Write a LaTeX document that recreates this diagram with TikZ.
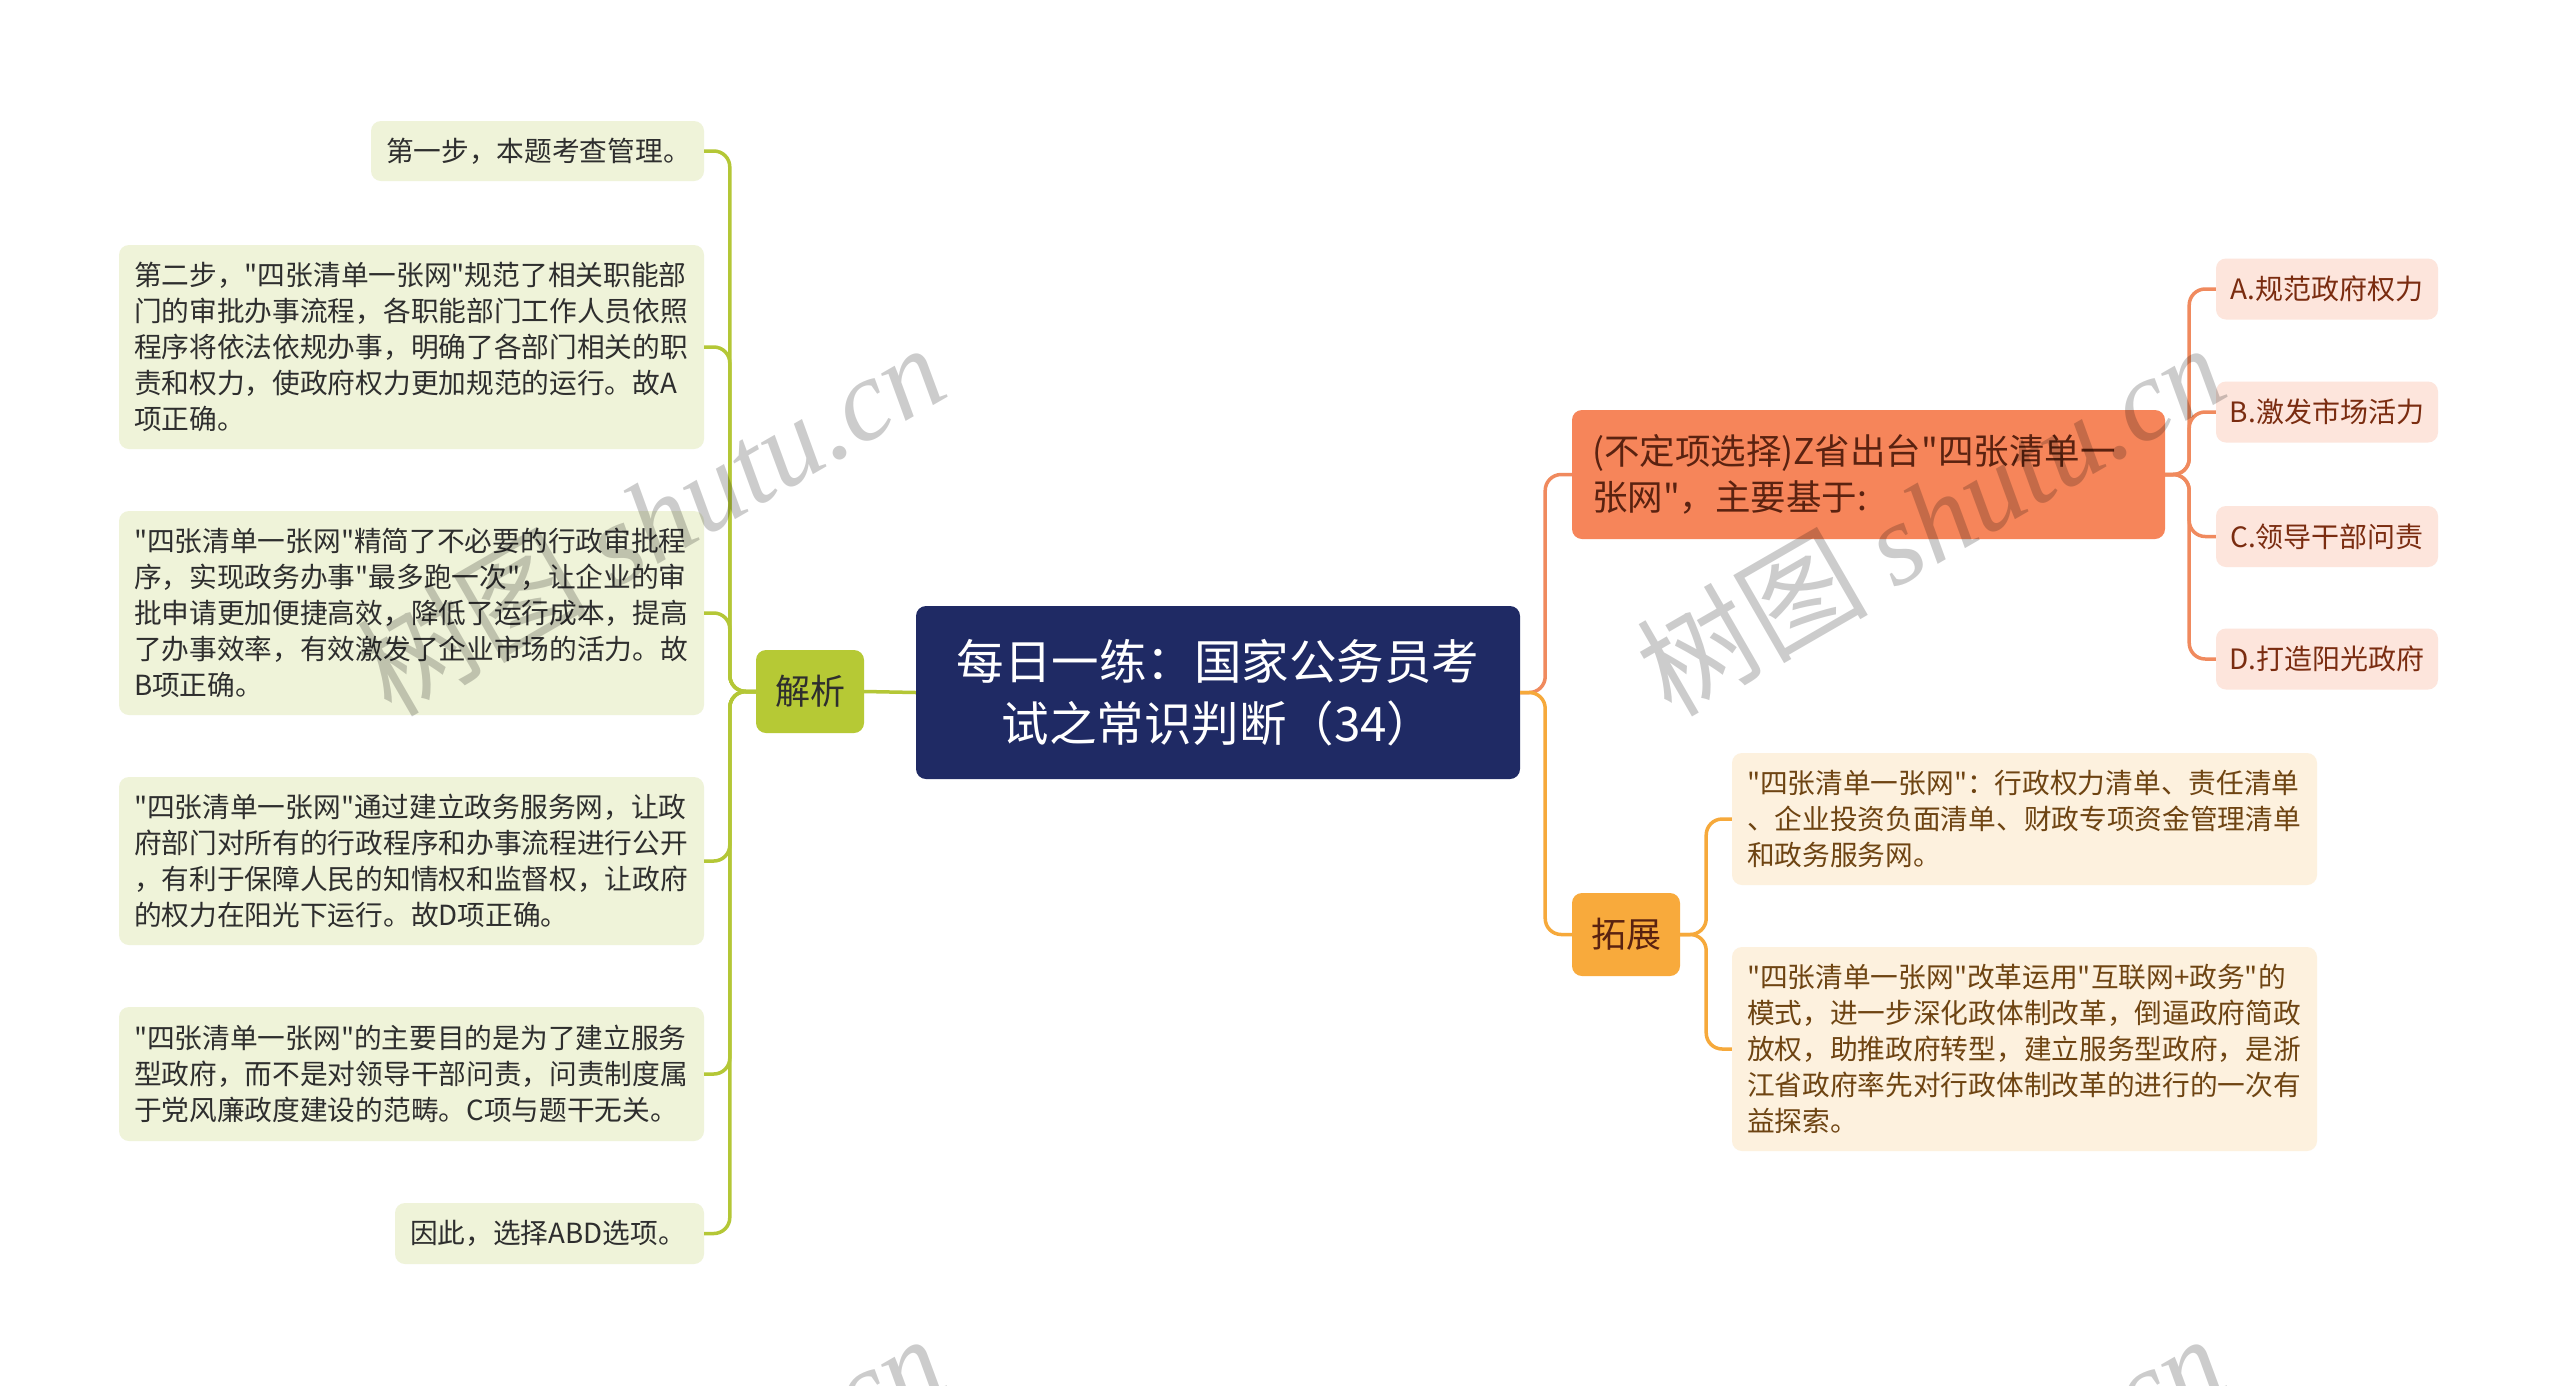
\documentclass[tikz,border=0pt]{standalone}
\usepackage{fontspec}
\setmainfont{Noto Sans CJK SC}[Ligatures=TeXOff]
\newfontfamily\wmfont{Liberation Serif}
\definecolor{gline}{HTML}{B4C736}
\definecolor{gfill}{HTML}{EFF3D9}
\definecolor{gnode}{HTML}{B6C935}
\definecolor{navy}{HTML}{1F2A64}
\definecolor{coral}{HTML}{F08A5E}
\definecolor{qfill}{HTML}{F6855A}
\definecolor{qtext}{HTML}{5A2210}
\definecolor{ofill}{HTML}{FDE5DC}
\definecolor{otext}{HTML}{7A2C10}
\definecolor{oline}{HTML}{F6A93B}
\definecolor{tzfill}{HTML}{F8AA3C}
\definecolor{tzchild}{HTML}{FDF1DE}
\definecolor{tztext}{HTML}{6E4412}
\definecolor{darktext}{HTML}{2E2E2E}
\begin{document}
\begin{tikzpicture}[x=1pt,y=-1pt,
  lbox/.style={rounded corners=10pt, fill=gfill, text=darktext, inner xsep=15pt, inner ysep=0pt, align=left, anchor=center, font=\fontsize{27.7}{36}\selectfont},
  tbox/.style={rounded corners=10pt, fill=tzchild, text=tztext, inner xsep=15pt, inner ysep=0pt, align=left, anchor=center, font=\fontsize{27.7}{36}\selectfont},
  obox/.style={rounded corners=10pt, fill=ofill, text=otext, inner sep=0pt, align=center, anchor=center, minimum width=222pt, minimum height=61pt, font=\fontsize{28}{36}\selectfont},
  subnode/.style={rounded corners=10pt, inner sep=0pt, align=center, anchor=center, minimum width=108pt, minimum height=83pt, font=\fontsize{35}{44}\selectfont},
  conn/.style={line width=3.5pt, rounded corners=16pt},
]
\useasboundingbox (0,0) rectangle (2560,1385);
\fill[white] (0,0) rectangle (2560,1385);

% central
\node[rounded corners=10pt, fill=navy, text=white, inner sep=0pt, align=center, minimum width=604pt, minimum height=173pt, font=\fontsize{47.5}{62}\selectfont] (root) at (1218,692.5) {每日一练：国家公务员考\\试之常识判断（34）};

% left branch
\node[subnode, fill=gnode, text=darktext] (jx) at (810,691.5) {解析};

\node[lbox, text width=303pt, minimum height=60pt] (L1) at (537.5,151) {第一步，本题考查管理。};
\node[lbox, text width=555pt, minimum height=204pt] (L2) at (411.5,347) {第二步，"四张清单一张网"规范了相关职能部\\门的审批办事流程，各职能部门工作人员依照\\程序将依法依规办事，明确了各部门相关的职\\责和权力，使政府权力更加规范的运行。故A\\项正确。};
\node[lbox, text width=555pt, minimum height=204pt] (L3) at (411.5,613) {"四张清单一张网"精简了不必要的行政审批程\\序，实现政务办事"最多跑一次"，让企业的审\\批申请更加便捷高效，降低了运行成本，提高\\了办事效率，有效激发了企业市场的活力。故\\B项正确。};
\node[lbox, text width=555pt, minimum height=168pt] (L4) at (411.5,861) {"四张清单一张网"通过建立政务服务网，让政\\府部门对所有的行政程序和办事流程进行公开\\，有利于保障人民的知情权和监督权，让政府\\的权力在阳光下运行。故D项正确。};
\node[lbox, text width=555pt, minimum height=134pt] (L5) at (411.5,1074) {"四张清单一张网"的主要目的是为了建立服务\\型政府，而不是对领导干部问责，问责制度属\\于党风廉政度建设的范畴。C项与题干无关。};
\node[lbox, text width=279pt, minimum height=61pt] (L6) at (549.5,1233.5) {因此，选择ABD选项。};

\draw[conn, gline] (root.west) -- (jx.east);
\foreach \n in {L1,L2,L3,L4,L5,L6}{
  \draw[conn, gline] (jx.west) -- ++(-26,0) |- (\n.east);
}

% right: question
\node[rounded corners=10pt, fill=qfill, text=qtext, inner xsep=20pt, inner ysep=0pt, align=left, text width=553pt, minimum height=129pt, font=\fontsize{35.5}{46}\selectfont] (Q) at (1868.5,474.5) {(不定项选择)Z省出台"四张清单一\\张网"，主要基于:};

\node[obox] (OA) at (2327,289) {A.规范政府权力};
\node[obox] (OB) at (2327,412) {B.激发市场活力};
\node[obox] (OC) at (2327,536.5) {C.领导干部问责};
\node[obox] (OD) at (2327,659) {D.打造阳光政府};

\draw[conn, coral] (root.east) -- ++(25,0) |- (Q.west);
\foreach \n in {OA,OB,OC,OD}{
  \draw[conn, coral] (Q.east) -- ++(24,0) |- (\n.west);
}

% right: extension
\node[subnode, fill=tzfill, text=qtext] (TZ) at (1626,934.5) {拓展};
\node[tbox, text width=555pt, minimum height=132pt] (T1) at (2024.5,819) {"四张清单一张网"：行政权力清单、责任清单\\、企业投资负面清单、财政专项资金管理清单\\和政务服务网。};
\node[tbox, text width=555pt, minimum height=204pt] (T2) at (2024.5,1049) {"四张清单一张网"改革运用"互联网+政务"的\\模式，进一步深化政体制改革，倒逼政府简政\\放权，助推政府转型，建立服务型政府，是浙\\江省政府率先对行政体制改革的进行的一次有\\益探索。};

\draw[conn, oline] (root.east) -- ++(25,0) |- (TZ.west);
\foreach \n in {T1,T2}{
  \draw[conn, oline] (TZ.east) -- ++(26,0) |- (\n.west);
}

% watermarks
\begin{scope}
\clip (0,0) rectangle (2560,1385);
\foreach \wx/\wy in {650/518, 1930/518, 650/1509, 1930/1509}{
  \node[rotate=30, text=black, opacity=0.2, inner sep=0pt, font=\fontsize{116}{120}\selectfont] (wm) at (\wx,\wy) {树图 {\wmfont\itshape shutu.cn}};
}
\end{scope}
\end{tikzpicture}
\end{document}
